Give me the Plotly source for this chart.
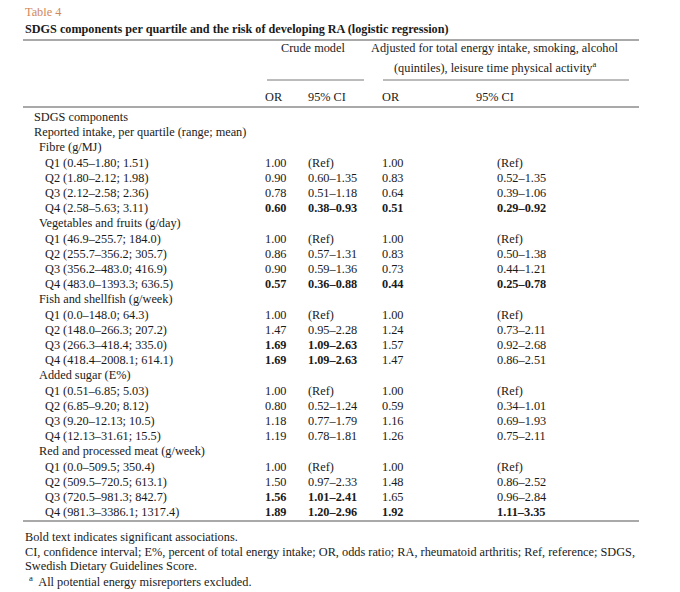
import plotly.graph_objects as go

groups = ["Fibre (g/MJ)", "Vegetables and fruits (g/day)", "Fish and shellfish (g/week)",
          "Added sugar (E%)", "Red and processed meat (g/week)"]
quartiles = [
    ["Q1 (0.45\u20131.80; 1.51)", "Q2 (1.80\u20132.12; 1.98)", "Q3 (2.12\u20132.58; 2.36)", "Q4 (2.58\u20135.63; 3.11)"],
    ["Q1 (46.9\u2013255.7; 184.0)", "Q2 (255.7\u2013356.2; 305.7)", "Q3 (356.2\u2013483.0; 416.9)", "Q4 (483.0\u20131393.3; 636.5)"],
    ["Q1 (0.0\u2013148.0; 64.3)", "Q2 (148.0\u2013266.3; 207.2)", "Q3 (266.3\u2013418.4; 335.0)", "Q4 (418.4\u20132008.1; 614.1)"],
    ["Q1 (0.51\u20136.85; 5.03)", "Q2 (6.85\u20139.20; 8.12)", "Q3 (9.20\u201312.13; 10.5)", "Q4 (12.13\u201331.61; 15.5)"],
    ["Q1 (0.0\u2013509.5; 350.4)", "Q2 (509.5\u2013720.5; 613.1)", "Q3 (720.5\u2013981.3; 842.7)", "Q4 (981.3\u20133386.1; 1317.4)"],
]
crude_or = [["1.00", "0.90", "0.78", "0.60"], ["1.00", "0.86", "0.90", "0.57"],
            ["1.00", "1.47", "1.69", "1.69"], ["1.00", "0.80", "1.18", "1.19"],
            ["1.00", "1.50", "1.56", "1.89"]]
crude_ci = [["(Ref)", "0.60\u20131.35", "0.51\u20131.18", "0.38\u20130.93"],
            ["(Ref)", "0.57\u20131.31", "0.59\u20131.36", "0.36\u20130.88"],
            ["(Ref)", "0.95\u20132.28", "1.09\u20132.63", "1.09\u20132.63"],
            ["(Ref)", "0.52\u20131.24", "0.77\u20131.79", "0.78\u20131.81"],
            ["(Ref)", "0.97\u20132.33", "1.01\u20132.41", "1.20\u20132.96"]]
crude_bold = [[0, 0, 0, 1], [0, 0, 0, 1], [0, 0, 1, 1], [0, 0, 0, 0], [0, 0, 1, 1]]
adj_or = [["1.00", "0.83", "0.64", "0.51"], ["1.00", "0.83", "0.73", "0.44"],
          ["1.00", "1.24", "1.57", "1.47"], ["1.00", "0.59", "1.16", "1.26"],
          ["1.00", "1.48", "1.65", "1.92"]]
adj_ci = [["(Ref)", "0.52\u20131.35", "0.39\u20131.06", "0.29\u20130.92"],
          ["(Ref)", "0.50\u20131.38", "0.44\u20131.21", "0.25\u20130.78"],
          ["(Ref)", "0.73\u20132.11", "0.92\u20132.68", "0.86\u20132.51"],
          ["(Ref)", "0.34\u20131.01", "0.69\u20131.93", "0.75\u20132.11"],
          ["(Ref)", "0.86\u20132.52", "0.96\u20132.84", "1.11\u20133.35"]]
adj_bold = [[0, 0, 0, 1], [0, 0, 0, 1], [0, 0, 0, 0], [0, 0, 0, 0], [0, 0, 0, 1]]

footnotes = [
    "Bold text indicates significant associations.",
    "CI, confidence interval; E%, percent of total energy intake; OR, odds ratio; RA, rheumatoid arthritis; Ref, reference; SDGS,",
    "Swedish Dietary Guidelines Score.",
    "<sup>a</sup>  All potential energy misreporters excluded.",
]

FONT = "Liberation Serif, Times New Roman, serif"
C = "#1a1a1a"
SZ = 12.3
fig = go.Figure()
ann = []


def txt(x, y, s, bold=False, anchor="left", size=SZ, color=C):
    if bold:
        s = "<b>" + s + "</b>"
    ann.append(dict(x=x, y=y, xref="x", yref="y", text=s, showarrow=False,
                    xanchor=anchor, yanchor="middle",
                    font=dict(family=FONT, size=size, color=color)))


txt(24, 12, "Table 4", color="#d2875a")
txt(24, 29, "SDGS components per quartile and the risk of developing RA (logistic regression)", bold=True, size=12.2)
txt(314, 48, "Crude model", anchor="center")
txt(496, 48, "Adjusted for total energy intake, smoking, alcohol", anchor="center")
txt(496, 67, "(quintiles), leisure time physical activity<sup>a</sup>", anchor="center")
for x, s, a in [(264, "OR", "left"), (307, "95% CI", "left"), (381, "OR", "left"), (496, "95% CI", "center")]:
    txt(x, 97, s, anchor=a)

step = 15.2
y = 117
txt(33, y, "SDGS components")
y += step
txt(33, y, "Reported intake, per quartile (range; mean)")
for g in range(len(groups)):
    y += step
    txt(38, y, groups[g])
    for q in range(4):
        y += step
        txt(44, y, quartiles[g][q])
        txt(264, y, crude_or[g][q], crude_bold[g][q])
        txt(307, y, crude_ci[g][q], crude_bold[g][q])
        txt(381, y, adj_or[g][q], adj_bold[g][q])
        txt(496, y, adj_ci[g][q], adj_bold[g][q])

for i, s in enumerate(footnotes):
    txt(24 if i < 3 else 28, 537 + i * 14.7, s)

shapes = []
for x0, x1, yy, w in [(24, 640, 40, 1.2), (268, 365, 80, 0.8), (384, 630, 80, 0.8),
                      (24, 640, 107, 1.2), (24, 640, 521, 1.2)]:
    shapes.append(dict(type="line", xref="x", yref="y", x0=x0, x1=x1, y0=yy, y1=yy,
                       line=dict(color="#555", width=w)))

# page renders with ~8px offset, so shift the ranges to compensate
fig.update_layout(width=680, height=592, margin=dict(l=0, r=0, t=0, b=0),
                  paper_bgcolor="white", plot_bgcolor="white",
                  annotations=ann, shapes=shapes,
                  xaxis=dict(range=[9, 689], visible=False, fixedrange=True),
                  yaxis=dict(range=[600, 8], visible=False, fixedrange=True),
                  showlegend=False)
fig.write_html("out.html")
